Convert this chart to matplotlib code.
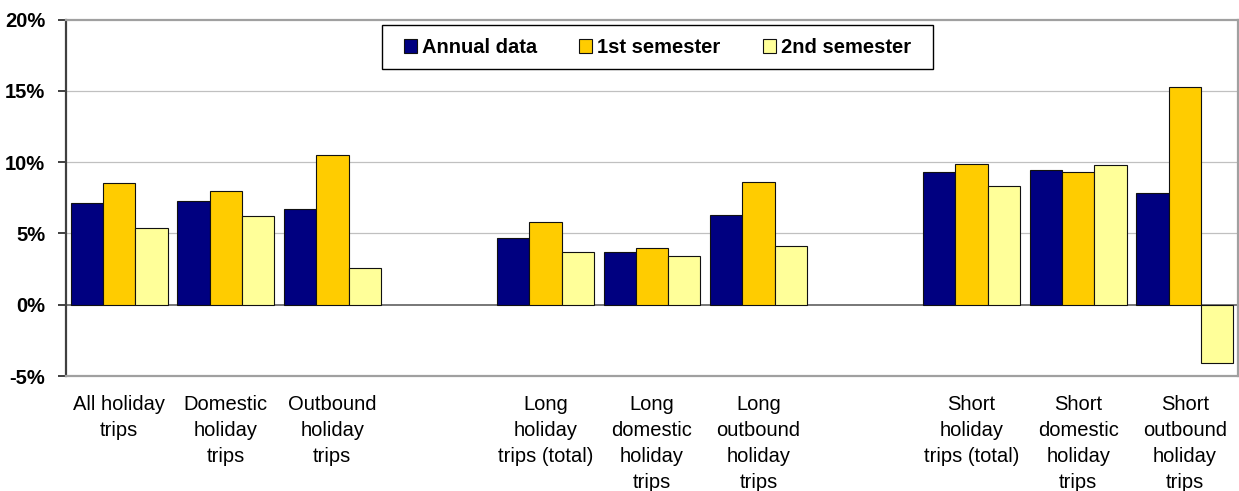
import matplotlib
matplotlib.use("Agg")
import matplotlib.pyplot as plt
from matplotlib.patches import Rectangle
from matplotlib.ticker import FuncFormatter

plt.rcParams['font.family'] = ['Liberation Sans', 'DejaVu Sans']

# ---- data ----
categories = [
    "All holiday\ntrips", "Domestic\nholiday\ntrips", "Outbound\nholiday\ntrips",
    "Long\nholiday\ntrips (total)", "Long\ndomestic\nholiday\ntrips", "Long\noutbound\nholiday\ntrips",
    "Short\nholiday\ntrips (total)", "Short\ndomestic\nholiday\ntrips", "Short\noutbound\nholiday\ntrips",
]
group_sizes = [3, 3, 3]  # categories per block, blocks separated by an empty slot
series_names = ["Annual data", "1st semester", "2nd semester"]
annual = [7.1, 7.25, 6.7, 4.65, 3.7, 6.3, 9.3, 9.45, 7.85]
sem1 = [8.55, 8.0, 10.5, 5.8, 3.95, 8.6, 9.85, 9.3, 15.3]
sem2 = [5.35, 6.2, 2.6, 3.7, 3.45, 4.15, 8.35, 9.8, -4.1]
yticks = [-5, 0, 5, 10, 15, 20]

colors = ["#000080", "#FFCC00", "#FFFF99"]

# slot positions: gap of one slot between blocks
positions = []
slot = 0
for g in group_sizes:
    for i in range(g):
        positions.append(slot)
        slot += 1
    slot += 1
n_slots = slot - 1

fig = plt.figure(figsize=(12.39, 4.91), dpi=100)
ax = fig.add_axes([66 / 1239, 1 - 376 / 491, (1238 - 66) / 1239, (376 - 19.5) / 491])

w = 0.303
for k, (vals, name, c) in enumerate(zip([annual, sem1, sem2], series_names, colors)):
    xs = [p + (k - 1) * w for p in positions]
    ax.bar(xs, vals, width=w, color=c, edgecolor="#111111", linewidth=0.8,
           label=name, zorder=3)

ax.set_xlim(-0.5, n_slots - 0.5)
ax.set_ylim(min(yticks), max(yticks))
ax.set_yticks(yticks)
ax.yaxis.set_major_formatter(FuncFormatter(lambda v, p: f"{v:.0f}%"))
for lbl in ax.get_yticklabels():
    lbl.set_fontweight("bold")
ax.tick_params(axis="y", direction="out", length=6, width=1.4, color="#404040",
               labelsize=14.5, pad=9)

ax.set_xticks(positions)
ax.set_xticklabels(categories, fontsize=14.5, linespacing=1.45, va="top")
ax.tick_params(axis="x", length=0, pad=14)

# gridlines
for v in yticks[2:-1]:
    ax.axhline(v, color="#c0c0c0", linewidth=0.9, zorder=1)
ax.axhline(0, color="#606060", linewidth=1.2, zorder=2.5)

for s in ["top", "bottom", "right"]:
    ax.spines[s].set_color("#a0a0a0")
    ax.spines[s].set_linewidth(1.6)
ax.spines["left"].set_color("#404040")
ax.spines["left"].set_linewidth(1.6)

leg = ax.legend(loc="upper center", bbox_to_anchor=(0.5047, 0.9832), ncol=3,
                frameon=False, borderaxespad=0, borderpad=0.62,
                handlelength=0.65, handleheight=0.65, handletextpad=0.25,
                columnspacing=2.1, prop={"weight": "bold", "size": 14.5})
leg.set_zorder(6)

fig.canvas.draw()
bb = leg.get_window_extent()
frame = Rectangle((bb.x0 - 9, bb.y0), bb.width + 18, bb.height, transform=None,
                  facecolor="white", edgecolor="black", linewidth=1.0, zorder=5)
ax.add_artist(frame)

fig.savefig("out.png", dpi=100)
